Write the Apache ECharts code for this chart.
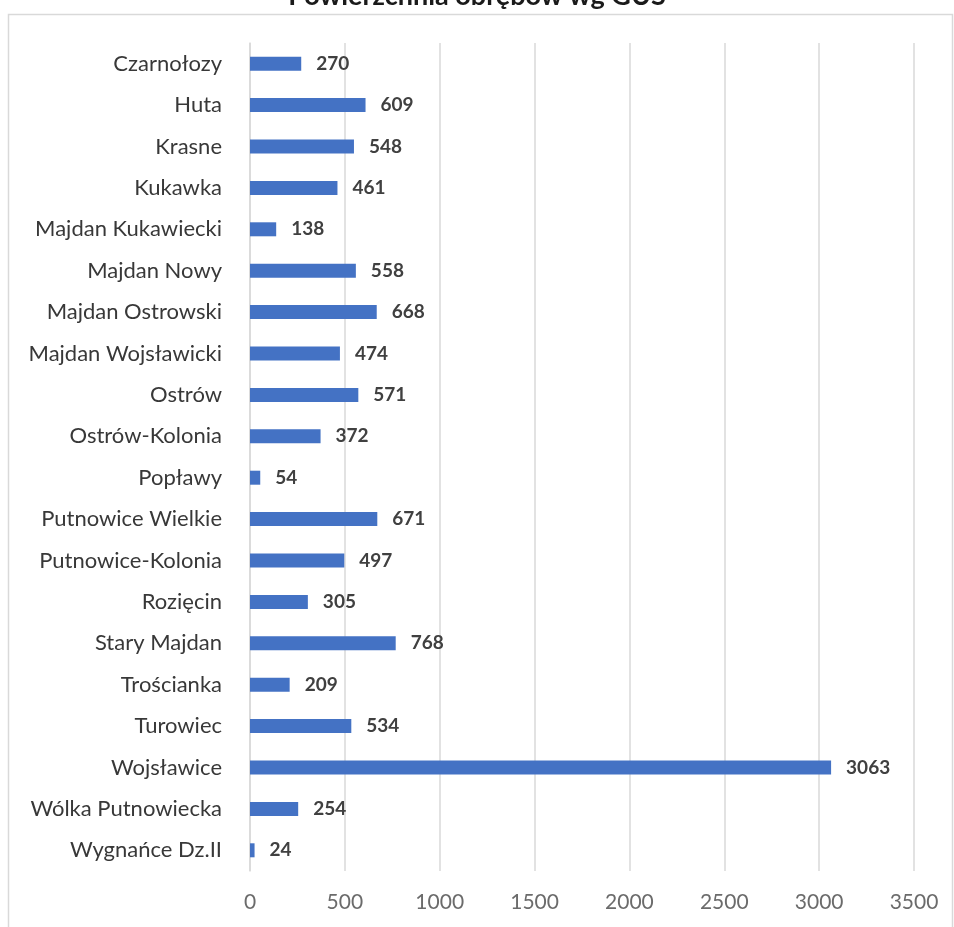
<!DOCTYPE html>
<html><head><meta charset="utf-8">
<script src="https://cdn.jsdelivr.net/npm/echarts@6/dist/echarts.min.js"></script>
<style>html,body{margin:0;padding:0;background:#fff}#c{width:954px;height:927px}</style>
</head><body><div id="c"></div>
<script>
const titleText = 'Powierzchnia obrębów wg GUS';
const categories = ['Czarnołozy','Huta','Krasne','Kukawka','Majdan Kukawiecki','Majdan Nowy','Majdan Ostrowski','Majdan Wojsławicki','Ostrów','Ostrów-Kolonia','Popławy','Putnowice Wielkie','Putnowice-Kolonia','Rozięcin','Stary Majdan','Trościanka','Turowiec','Wojsławice','Wólka Putnowiecka','Wygnańce Dz.II'];
const values = [270,609,548,461,138,558,668,474,571,372,54,671,497,305,768,209,534,3063,254,24];
const xTicks = [0,500,1000,1500,2000,2500,3000,3500];

const font = 'Lato, Open Sans, sans-serif';
const chart = echarts.init(document.getElementById('c'));
chart.setOption({
  animation:false,
  backgroundColor:'#fff',
  graphic:[
    {type:'rect', shape:{x:8.5,y:14.5,width:944,height:930}, style:{fill:'none',stroke:'#d9d9d9',lineWidth:1.5}, z:-1},
    {type:'text', left:'center', top:-17, style:{text:titleText, font:'bold 27px '+font, fill:'#1a1a1a'}}
  ],
  grid:{left:250, right:40, top:43, bottom:56, containLabel:false},
  xAxis:{type:'value', min:xTicks[0], max:xTicks[xTicks.length-1], interval:500,
    axisLine:{show:false}, axisTick:{show:false},
    axisLabel:{color:'#6b6b6b', fontSize:21, fontFamily:font, margin:21, formatter:v=>String(v)},
    splitLine:{lineStyle:{color:'#d9d9d9', width:1.5}}},
  yAxis:{type:'category', data:categories, inverse:true,
    axisLine:{lineStyle:{color:'#d9d9d9', width:1.5}}, axisTick:{show:false},
    axisLabel:{color:'#383838', fontSize:22, fontFamily:font, margin:28, padding:[6,0,0,0]}},
  series:[{type:'bar', data:values, barWidth:14,
    itemStyle:{color:'#4472C4'},
    label:{show:true, position:'right', distance:15, color:'#404040', fontSize:19, fontWeight:'bold', fontFamily:font, padding:[4,0,0,0]}}]
});
</script></body></html>
